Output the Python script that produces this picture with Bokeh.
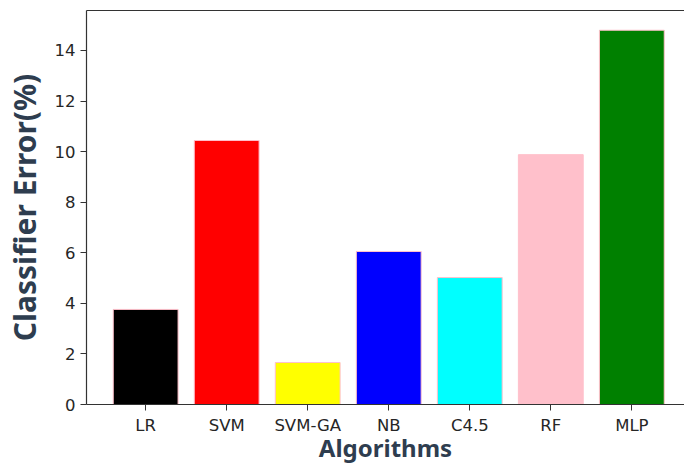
from bokeh.plotting import figure
from bokeh.models import ColumnDataSource, Range1d, FixedTicker, LinearAxis
from bokeh.embed import file_html
from bokeh.resources import INLINE

algorithms = ["LR", "SVM", "SVM-GA", "NB", "C4.5", "RF", "MLP"]
errors = [3.76, 10.44, 1.66, 6.05, 5.02, 9.88, 14.8]
colors = ["black", "red", "yellow", "blue", "cyan", "pink", "green"]
y_ticks = [0, 2, 4, 6, 8, 10, 12, 14]

idx = list(range(len(algorithms)))
src = ColumnDataSource(dict(x=idx, top=errors, color=colors))

p = figure(output_backend="svg", toolbar_location=None,
           frame_width=598, frame_height=394,
           x_range=Range1d(-0.73, 6.65), y_range=Range1d(0, 15.58),
           min_border_left=86, min_border_top=10, min_border_right=0, min_border_bottom=20)

p.vbar(x="x", top="top", bottom=0, width=0.8, source=src,
       fill_color="color", line_color="pink", line_width=1)

p.grid.visible = False
p.outline_line_color = None
p.background_fill_color = "white"

for ax in (p.xaxis[0], p.yaxis[0]):
    ax.axis_line_color = "#333333"
    ax.axis_line_width = 1.2
    ax.major_tick_line_color = "#333333"
    ax.major_tick_out = 6
    ax.major_tick_in = 0
    ax.minor_tick_line_color = None
    ax.major_label_text_font = "DejaVu Sans"
    ax.major_label_text_font_size = "16.5px"
    ax.major_label_text_color = "#262626"
    ax.axis_label_text_font = "Noto Sans"
    ax.axis_label_text_font_style = "bold"
    ax.axis_label_text_color = "#2e3d4f"

p.xaxis.ticker = FixedTicker(ticks=idx)
p.xaxis.major_label_overrides = {i: a for i, a in enumerate(algorithms)}
p.xaxis.axis_label = "Algorithms"
p.xaxis.axis_label_text_font_size = "24px"
p.xaxis.major_label_standoff = 5
p.xaxis.axis_label_standoff = -7

p.yaxis.ticker = FixedTicker(ticks=y_ticks)
p.yaxis.axis_label = "Classifier Error(%)"
p.yaxis.axis_label_text_font_size = "30px"
p.yaxis.major_label_standoff = 5
p.yaxis.axis_label_standoff = 7

top_ax = LinearAxis(axis_line_color="#333333", axis_line_width=1.2,
                    major_tick_line_color=None, minor_tick_line_color=None,
                    major_label_text_font_size="0px", major_label_standoff=0,
                    ticker=FixedTicker(ticks=[]))
p.add_layout(top_ax, "above")

open("out.html", "w").write(file_html(p, INLINE))
